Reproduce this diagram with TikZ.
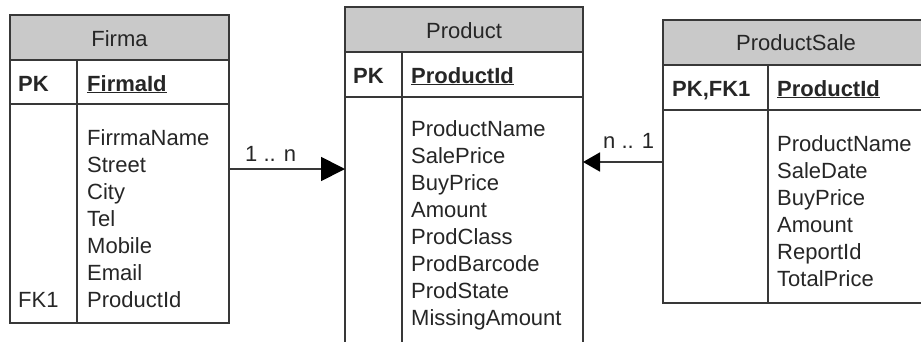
\documentclass[tikz,border=0pt]{standalone}
\usepackage{fontspec}
\setmainfont{Liberation Sans}
\usetikzlibrary{arrows.meta}
\definecolor{linec}{HTML}{383838}
\definecolor{textc}{HTML}{262626}
\definecolor{headc}{HTML}{C9C9C9}
\begin{document}
\begin{tikzpicture}[x=1pt,y=-1pt,
  tbl/.style={draw=linec, line width=1.6pt, fill=white, inner sep=0pt, outer sep=0pt, anchor=north west},
  hdr/.style={draw=linec, line width=1.6pt, fill=headc, inner sep=0pt, outer sep=0pt, anchor=north west},
  sep/.style={draw=linec, line width=1.6pt},
  txt/.style={text=textc, inner sep=0pt, anchor=base west, font=\fontsize{22}{27}\selectfont},
  ttl/.style={text=textc, inner sep=0pt, anchor=base, font=\fontsize{22}{27}\selectfont},
  key/.style={txt, font=\fontsize{22}{27}\selectfont\bfseries},
  conn/.style={draw=linec, line width=1.8pt},
]
\useasboundingbox (0,0) rectangle (921,341);
\clip (0,0) rectangle (921,341);

% ---------- Firma ----------
\node[tbl, minimum width=219pt, minimum height=308pt] (firma) at (10,15) {};
\node[hdr, minimum width=219pt, minimum height=45pt] (firmah) at (10,15) {};
\draw[sep] (10,104) -- (229,104);
\draw[sep] (77,60) -- (77,323);
\node[ttl] (firmat) at (119.5,46) {Firma};
\node[key] (firmapk) at (18,91) {PK};
\node[key] (firmaid) at (87,91) {\underline{FirmaId}};
\foreach \t [count=\i] in {FirrmaName,Street,City,Tel,Mobile,Email,ProductId}
  \node[txt] (firmaf\i) at (87,{137+27*(\i-1)+8}) {\t};
\node[txt] (firmafk) at (18,307) {FK1};

% ---------- Product ----------
\node[tbl, minimum width=238pt, minimum height=360pt] (prod) at (345,7) {};
\node[hdr, minimum width=238pt, minimum height=45pt] (prodh) at (345,7) {};
\draw[sep] (345,97) -- (583,97);
\draw[sep] (402,52) -- (402,370);
\node[ttl] (prodt) at (464,38) {Product};
\node[key] (prodpk) at (353,83) {PK};
\node[key] (prodid) at (411,83) {\underline{ProductId}};
\foreach \t [count=\i] in {ProductName,SalePrice,BuyPrice,Amount,ProdClass,ProdBarcode,ProdState,MissingAmount}
  \node[txt] (prodf\i) at (411,{128+27*(\i-1)+8}) {\t};

% ---------- ProductSale ----------
\node[tbl, minimum width=266pt, minimum height=283pt] (sale) at (663,20) {};
\node[hdr, minimum width=266pt, minimum height=45pt] (saleh) at (663,20) {};
\draw[sep] (663,110) -- (929,110);
\draw[sep] (768,65) -- (768,303);
\node[ttl] (salet) at (796,50) {ProductSale};
\node[key] (salepk) at (672,96) {PK,FK1};
\node[key] (saleid) at (777,96) {\underline{ProductId}};
\foreach \t [count=\i] in {ProductName,SaleDate,BuyPrice,Amount,ReportId,TotalPrice}
  \node[txt] (salef\i) at (777,{143+27*(\i-1)+8}) {\t};

% ---------- connectors ----------
\coordinate (a1s) at (firma.east |- 0,169);
\coordinate (a1e) at (prod.west |- 0,169);
\draw[conn, -{Triangle[length=24pt,width=24pt,color=black]}] (a1s) -- (a1e);
\node[txt] (l1) at (245,161) {1 .. n};

\coordinate (a2s) at (sale.west |- 0,162);
\coordinate (a2e) at (prod.east |- 0,162);
\draw[conn, -{Triangle[length=17pt,width=19pt,color=black]}] (a2s) -- (a2e);
\node[txt] (l2) at (603,148) {n .. 1};
\end{tikzpicture}
\end{document}
